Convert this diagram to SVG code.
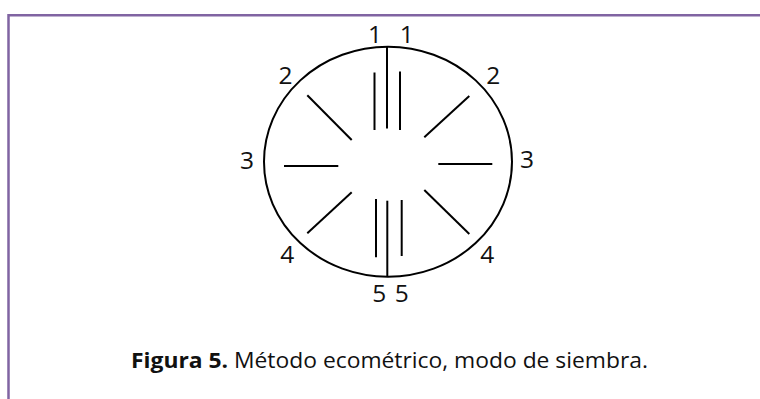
<svg xmlns="http://www.w3.org/2000/svg" width="760" height="399" viewBox="0 0 760 399">
<style>
.frame{fill:none;stroke:#8064a2;stroke-width:2.5}
.ln{stroke:#000;stroke-width:2;fill:none;stroke-linecap:butt}
.lbl{font-family:"Open Sans","Noto Sans",sans-serif;font-size:24.5px;fill:#111;text-anchor:middle}
.cap{font-family:"Open Sans","Noto Sans",sans-serif;font-size:21px;fill:#111}
</style>
<rect width="760" height="399" fill="#fff"/>
<path class="frame" d="M8.5,399 V15.2 H760"/>
<g id="circle">
<ellipse class="ln" cx="388" cy="161.7" rx="124" ry="115"/>
</g>
<g id="connectors">
<line class="ln" x1="387" y1="46.7" x2="387" y2="128.5"/>
<line class="ln" x1="374.5" y1="72.5" x2="374.5" y2="130"/>
<line class="ln" x1="400" y1="71.5" x2="400" y2="130"/>
<line class="ln" x1="387.3" y1="200.7" x2="387.3" y2="276.7"/>
<line class="ln" x1="376" y1="199" x2="376" y2="257.3"/>
<line class="ln" x1="401.7" y1="200" x2="401.7" y2="256"/>
<line class="ln" x1="307.3" y1="95.3" x2="351.7" y2="140"/>
<line class="ln" x1="469.3" y1="96" x2="424.3" y2="137.3"/>
<line class="ln" x1="284" y1="166" x2="338.3" y2="166"/>
<line class="ln" x1="438.3" y1="164" x2="492.3" y2="164"/>
<line class="ln" x1="351.7" y1="192.3" x2="307.3" y2="233.3"/>
<line class="ln" x1="424.3" y1="190" x2="469.3" y2="234"/>
</g>
<g id="labels">
<text class="lbl" x="375" y="43.3">1</text>
<text class="lbl" x="406.7" y="43.3">1</text>
<text class="lbl" x="285.5" y="84">2</text>
<text class="lbl" x="493.3" y="84">2</text>
<text class="lbl" x="247" y="169">3</text>
<text class="lbl" x="527" y="168.3">3</text>
<text class="lbl" x="287.3" y="263.3">4</text>
<text class="lbl" x="487.3" y="263.3">4</text>
<text class="lbl" x="379.3" y="301.7">5</text>
<text class="lbl" x="401.7" y="301.7">5</text>
</g>
<g id="caption">
<text class="cap" x="131" y="368.3" textLength="517" lengthAdjust="spacingAndGlyphs"><tspan font-weight="bold">Figura 5.</tspan> Método ecométrico, modo de siembra.</text>
</g>
</svg>
